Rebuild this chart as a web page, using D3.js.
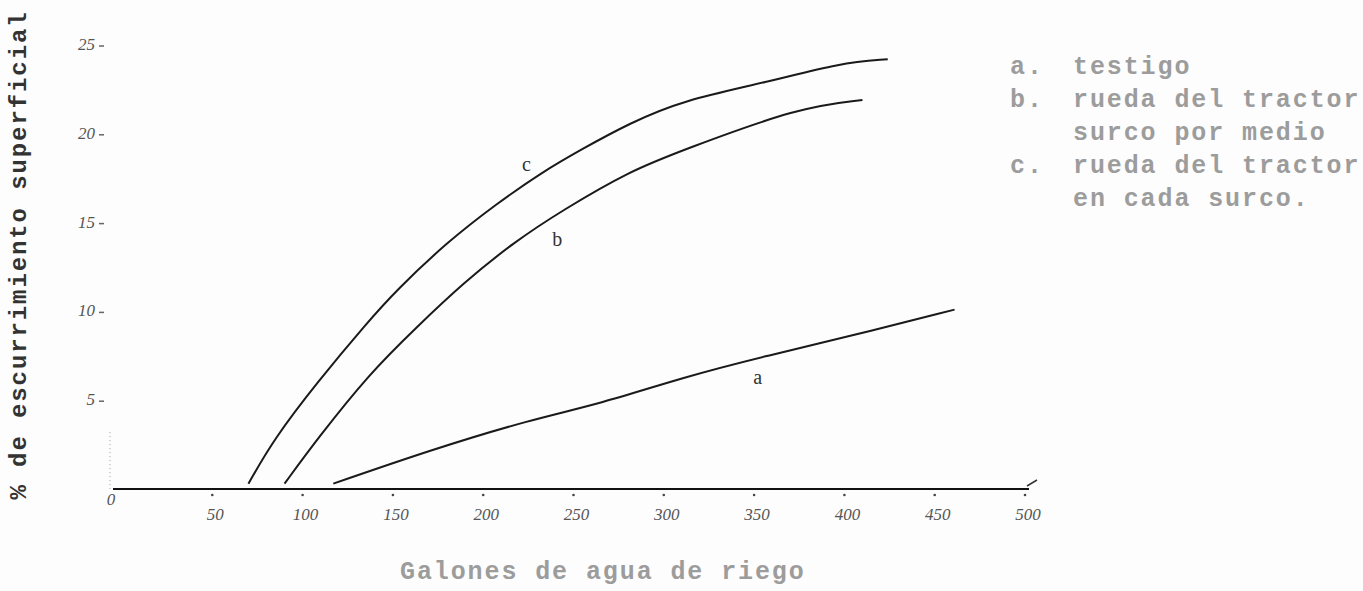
<!DOCTYPE html>
<html>
<head>
<meta charset="utf-8">
<script src="https://cdn.jsdelivr.net/npm/d3@7"></script>
<style>
    body { margin: 0; background: #fdfdfd; }
    .tickLabel { font-family: "Liberation Serif", serif; font-style: italic; font-size: 17px; fill: #555; }
    .curveLabel { font-family: "Liberation Serif", serif; font-size: 20px; fill: #333; }
    .typed { font-family: "Liberation Mono", monospace; font-weight: bold; font-size: 25px; fill: #9c9c9c; letter-spacing: 1.9px; }
    .yTitle { font-family: "Liberation Mono", monospace; font-weight: bold; font-size: 24px; fill: #333; letter-spacing: 1.9px; }
</style>
</head>
<body>
<script>
//window size
var w = 1363, h = 591;

//tick values on both axes
var xTicks = [0, 50, 100, 150, 200, 250, 300, 350, 400, 450, 500];
var yTicks = [5, 10, 15, 20, 25];

//curve a: testigo
var gallonsA = [117, 171, 226, 265, 311, 357, 403, 461];
var runoffA = [0.3, 2.2, 3.9, 4.8, 6.3, 7.5, 8.6, 10.1];

//curve b: rueda del tractor surco por medio
var gallonsB = [90, 108, 137, 163, 189, 217, 244, 281, 311, 375, 410];
var runoffB = [0.3, 2.8, 6.5, 9.1, 11.6, 13.9, 15.7, 17.9, 19.1, 21.5, 21.9];

//curve c: rueda del tractor en cada surco
var gallonsC = [70, 84, 108, 136, 152, 180, 208, 232, 254, 281, 311, 357, 398, 424];
var runoffC = [0.3, 2.8, 6.0, 9.4, 11.2, 13.9, 16.1, 17.8, 19.1, 20.6, 21.9, 22.9, 24.0, 24.2];

//legend lines
var legendKeys = ["a.", "b.", "", "c.", ""];
var legendText = ["testigo", "rueda del tractor", "surco por medio", "rueda del tractor", "en cada surco."];

//curve label letters
var curveNames = ["a", "b", "c"];

//scales
var x = d3.scaleLinear()
    .domain([0, 500])
    .range([122, 1025]);

var y = d3.scaleLinear()
    .domain([0, 25])
    .range([489, 45]);

var svg = d3.select("body")
    .append("svg")
    .attr("width", w)
    .attr("height", h)
    .style("display", "block");

//x axis: plain line, dots under it, handwritten numbers
var xAxisLine = svg.append("line")
    .attr("x1", x(0) - 9)
    .attr("x2", x(500) + 4)
    .attr("y1", y(0))
    .attr("y2", y(0))
    .style("stroke", "#111")
    .style("stroke-width", 2.2);

//little flick at the end of the axis
var axisFlick = svg.append("line")
    .attr("x1", x(500) + 2)
    .attr("x2", x(500) + 12)
    .attr("y1", y(0) - 3)
    .attr("y2", y(0) - 9)
    .style("stroke", "#333")
    .style("stroke-width", 1.5);

var xDots = svg.selectAll(".xDots")
    .data(xTicks.slice(1))
    .enter()
    .append("circle")
    .attr("class", "xDots")
    .attr("cx", function(d){ return x(d); })
    .attr("cy", y(0) + 6)
    .attr("r", 1.3)
    .style("fill", "#444");

var xLabels = svg.selectAll(".xLabels")
    .data(xTicks)
    .enter()
    .append("text")
    .attr("class", "tickLabel xLabels")
    .attr("text-anchor", "middle")
    .attr("x", function(d){ return d === 0 ? x(d) - 11 : x(d) + 3; })
    .attr("y", function(d){ return d === 0 ? y(0) + 16 : y(0) + 31; })
    .text(function(d){ return d; });

//y axis: only numbers with short dashes, plus faint dotted stub near zero
var yLabels = svg.selectAll(".yLabels")
    .data(yTicks)
    .enter()
    .append("text")
    .attr("class", "tickLabel yLabels")
    .attr("text-anchor", "end")
    .attr("x", 95)
    .attr("y", function(d){ return y(d) + 5; })
    .text(function(d){ return d; });

var yDashes = svg.selectAll(".yDashes")
    .data(yTicks)
    .enter()
    .append("line")
    .attr("class", "yDashes")
    .attr("x1", 99)
    .attr("x2", 104)
    .attr("y1", function(d){ return y(d) + 1; })
    .attr("y2", function(d){ return y(d) + 1; })
    .style("stroke", "#666")
    .style("stroke-width", 1.5);

var yStub = svg.append("line")
    .attr("x1", 110)
    .attr("x2", 110)
    .attr("y1", y(3.2))
    .attr("y2", y(0))
    .style("stroke", "#999")
    .style("stroke-width", 1)
    .style("stroke-dasharray", "1,3");

//curves, smoothed like a hand drawn line
var line = d3.line()
    .x(function(d){ return x(d[0]); })
    .y(function(d){ return y(d[1]); })
    .curve(d3.curveBasis);

var curveData = [
    d3.zip(gallonsA, runoffA),
    d3.zip(gallonsB, runoffB),
    d3.zip(gallonsC, runoffC)
];

var curves = svg.selectAll(".curves")
    .data(curveData)
    .enter()
    .append("path")
    .attr("class", "curves")
    .attr("d", line)
    .style("fill", "none")
    .style("stroke", "#1a1a1a")
    .style("stroke-width", 2);

//letters next to the curves, placed in data units
var labelGallons = [352, 241, 224];
var labelRunoff = [5.9, 13.7, 17.9];

var curveLabels = svg.selectAll(".curveLabels")
    .data(curveNames)
    .enter()
    .append("text")
    .attr("class", "curveLabel curveLabels")
    .attr("text-anchor", "middle")
    .attr("x", function(d, i){ return x(labelGallons[i]); })
    .attr("y", function(d, i){ return y(labelRunoff[i]); })
    .text(function(d){ return d; });

//axis titles
var yTitle = svg.append("text")
    .attr("class", "yTitle")
    .attr("text-anchor", "middle")
    .attr("transform", "translate(26, 255) rotate(-90)")
    .text("% de escurrimiento superficial");

var xTitle = svg.append("text")
    .attr("class", "typed")
    .attr("x", 400)
    .attr("y", 579)
    .text("Galones de agua de riego");

//typed legend
var legendRows = svg.selectAll(".legendRows")
    .data(legendText)
    .enter()
    .append("g")
    .attr("class", "legendRows")
    .attr("transform", function(d, i){ return "translate(0," + (74 + i * 33) + ")"; });

legendRows.append("text")
    .attr("class", "typed")
    .attr("x", 1010)
    .text(function(d, i){ return legendKeys[i]; });

legendRows.append("text")
    .attr("class", "typed")
    .attr("x", 1073)
    .text(function(d){ return d; });
</script>
</body>
</html>
